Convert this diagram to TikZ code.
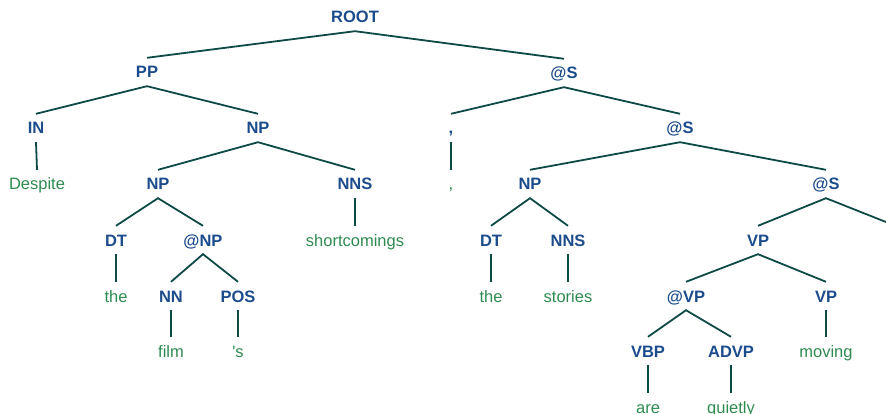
\documentclass[tikz,border=0pt]{standalone}
\usepackage{fontspec}
\setmainfont{Liberation Sans}
\definecolor{catblue}{HTML}{1C4C8C}
\definecolor{wordgreen}{HTML}{2E8B4F}
\definecolor{edgecol}{HTML}{0E4A45}
\tikzset{
  cat/.style={font=\bfseries\fontsize{16.5}{18}\selectfont, text=catblue,
    inner sep=0pt, minimum height=28pt, text height=12pt, text depth=0pt},
  word/.style={font=\fontsize{16.5}{18}\selectfont, text=wordgreen,
    inner sep=0pt, minimum height=28pt, text height=12pt, text depth=0pt},
  branch/.style={draw=edgecol, line width=1.8pt},
}
\begin{document}
\begin{tikzpicture}[x=1pt, y=-1pt]
\clip (0,0) rectangle (886,414);
\useasboundingbox (0,0) rectangle (886,414);
% categories
\node[cat] (root) at (355,17) {ROOT};
\node[cat] (pp) at (147,72) {PP};
\node[cat] (s1) at (564,73) {@S};
\node[cat] (in) at (36,128) {IN};
\node[cat] (np1) at (258,128) {NP};
\node[cat] (comma) at (451,128) {,};
\node[cat] (s2) at (680,128) {@S};
\node[cat] (np2) at (158,184) {NP};
\node[cat] (nns1) at (355,184) {NNS};
\node[cat] (np3) at (530,184) {NP};
\node[cat] (s3) at (826,184) {@S};
\node[cat] (dt1) at (116,240) {DT};
\node[cat] (anp) at (203,240) {@NP};
\node[cat] (dt2) at (491,240) {DT};
\node[cat] (nns2) at (568,240) {NNS};
\node[cat] (vp1) at (758,240) {VP};
\node[cat] (nn) at (171,296) {NN};
\node[cat] (pos) at (238,296) {POS};
\node[cat] (avp) at (686,296) {@VP};
\node[cat] (vp2) at (826,296) {VP};
\node[cat] (vbp) at (648,351) {VBP};
\node[cat] (advp) at (731,351) {ADVP};
\coordinate (s4) at (896,226);
% words
\node[word] (w1) at (37,184) {Despite};
\node[word] (w2) at (451,184) {,};
\node[word] (w3) at (355,240) {shortcomings};
\node[word] (w4) at (116,296) {the};
\node[word] (w5) at (491,296) {the};
\node[word] (w6) at (568,296) {stories};
\node[word] (w7) at (171,351) {film};
\node[word] (w8) at (238,351) {\textquotesingle s};
\node[word] (w9) at (826,351) {moving};
\node[word] (w10) at (648,407) {are};
\node[word] (w11) at (731,407) {quietly};
% branches
\draw[branch] (pp.north) -- (root.south) -- (s1.north);
\draw[branch] (in.north) -- (pp.south) -- (np1.north);
\draw[branch] (comma.north) -- (s1.south) -- (s2.north);
\draw[branch] (in.south) -- (w1.north);
\draw[branch] (np2.north) -- (np1.south) -- (nns1.north);
\draw[branch] (comma.south) -- (w2.north);
\draw[branch] (np3.north) -- (s2.south) -- (s3.north);
\draw[branch] (dt1.north) -- (np2.south) -- (anp.north);
\draw[branch] (nns1.south) -- (w3.north);
\draw[branch] (dt2.north) -- (np3.south) -- (nns2.north);
\draw[branch] (vp1.north) -- (s3.south) -- (s4);
\draw[branch] (dt1.south) -- (w4.north);
\draw[branch] (nn.north) -- (anp.south) -- (pos.north);
\draw[branch] (dt2.south) -- (w5.north);
\draw[branch] (nns2.south) -- (w6.north);
\draw[branch] (avp.north) -- (vp1.south) -- (vp2.north);
\draw[branch] (nn.south) -- (w7.north);
\draw[branch] (pos.south) -- (w8.north);
\draw[branch] (vbp.north) -- (avp.south) -- (advp.north);
\draw[branch] (vp2.south) -- (w9.north);
\draw[branch] (vbp.south) -- (w10.north);
\draw[branch] (advp.south) -- (w11.north);
\end{tikzpicture}
\end{document}
